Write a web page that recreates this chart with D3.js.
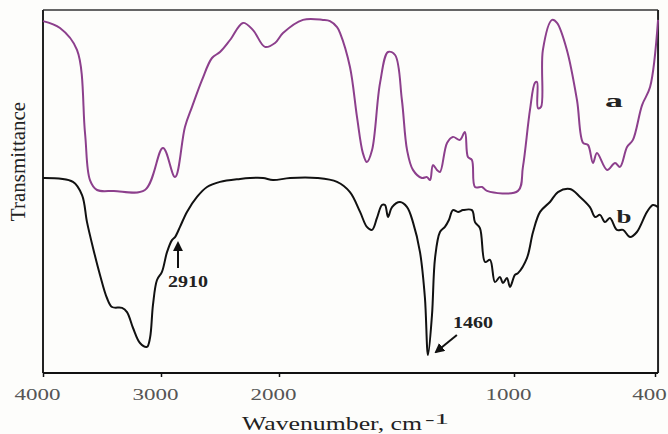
<!DOCTYPE html>
<html>
<head>
<meta charset="utf-8">
<script src="https://cdn.jsdelivr.net/npm/d3@7"></script>
<style>
  body { margin: 0; background: #fdfdfb; }
  svg { display: block; font-family: 'Liberation Serif', 'Times New Roman', serif; }
</style>
</head>
<body>
<div class="visHolder"></div>
<script>
const w = 668, h = 434;
const plotLeft = 43, plotTop = 10, plotBottom = 373;

// wavenumber axis (cm-1), scale doubles below 2000
const xTicks = [4000, 3000, 2000, 1000, 400];
const xEnd = 387;

// [wavenumber, transmittance (arb.)]
const spectrumA = [
  [4000, 117.3], [3856, 115], [3712, 107.7], [3644, 80], [3602, 64.3], [3542, 61],
  [3400, 60.7], [3136, 61], [2983, 75], [2881, 65.3], [2797, 82], [2737, 88.7],
  [2652, 97.7], [2568, 105], [2500, 107], [2415, 111], [2305, 116.7], [2220, 114.3],
  [2119, 108.7], [2034, 110], [1983, 113.3], [1898, 117.7], [1813, 117.7], [1783, 117.3],
  [1753, 115.3], [1740, 113.3], [1698, 102], [1668, 85.3], [1643, 73.3], [1626, 70.3],
  [1604, 74.3], [1570, 96.7], [1536, 107], [1506, 106], [1477, 91], [1455, 74.3],
  [1430, 67.7], [1392, 65], [1370, 65.3], [1357, 64.3], [1345, 69.3], [1328, 67.7],
  [1315, 67], [1285, 76.7], [1260, 78.7], [1230, 77.7], [1209, 80.3], [1196, 72],
  [1179, 71], [1166, 62], [1136, 62], [1115, 60.7], [983, 60.7], [962, 68.7],
  [932, 87.7], [911, 96.7], [902, 97], [898, 88.3], [885, 88.7], [877, 107.7],
  [838, 117.7], [817, 116.7], [775, 107.7], [732, 91], [706, 76.7], [685, 76],
  [664, 70], [647, 73.3], [604, 67.7], [570, 70], [549, 68.7], [519, 75.3],
  [494, 77.7], [455, 89.3], [421, 95.3], [387, 117.7]
];

const spectrumB = [
  [4000, 65], [3746, 63.7], [3669, 59.3], [3627, 50.3], [3576, 41.7], [3517, 32.7],
  [3458, 25], [3415, 22], [3330, 21.7], [3288, 20.3], [3237, 15], [3178, 10],
  [3119, 8.7], [3093, 11.7], [3068, 22.7], [3034, 31], [2992, 33.7], [2949, 40.3],
  [2907, 44.3], [2881, 45.3], [2839, 48.7], [2780, 53.7], [2695, 58.7], [2610, 62],
  [2500, 63.7], [2330, 64.7], [2246, 65], [2135, 65], [2051, 64.3], [1953, 65],
  [1838, 65], [1753, 63.7], [1698, 60.3], [1655, 53.7], [1626, 48.7], [1604, 47.7],
  [1583, 51.7], [1562, 56], [1549, 56], [1536, 52], [1519, 55.3], [1485, 57],
  [1455, 55.3], [1430, 50.3], [1400, 40.3], [1379, 25], [1366, 6], [1349, 19.3],
  [1336, 38.3], [1315, 47], [1294, 48.7], [1277, 51], [1260, 54.3], [1238, 53.7],
  [1217, 54.3], [1179, 54.3], [1166, 50.3], [1145, 48.3], [1123, 37], [1102, 37.7],
  [1081, 30.3], [1060, 32], [1047, 30], [1030, 31.7], [1017, 28.7], [996, 32.7],
  [983, 33.3], [945, 38.3], [919, 47], [889, 53.7], [847, 57], [813, 60.3],
  [762, 61.3], [719, 58.7], [677, 55.3], [655, 52], [634, 52.7], [613, 50.3],
  [592, 51.7], [562, 47.7], [536, 47.7], [506, 45.3], [477, 47], [434, 53.7],
  [409, 56], [387, 55.3]
];

// series labels and peak annotations
const seriesLabels = [
  { text: 'a', wn: 575, t: 88.7, len: 18 },
  { text: 'b', wn: 532, t: 50, len: 15 }
];
const peaks = [
  { text: '2910', wn: 2856, tail: 35, tip: 43.3, labelWn: 2771, labelT: 28.7 },
  { text: '1460', wn: 1243, tail: 12.7, tipWn: 1332, tip: 7, labelWn: 1175, labelT: 15 }
];

const svg = d3.select('.visHolder')
  .append('svg')
  .attr('width', w)
  .attr('height', h);

const x = d3.scaleLinear()
  .domain([4000, 2000, 400])
  .range([plotLeft, 279, 655]);

const y = d3.scaleLinear()
  .domain([0, 121])
  .range([plotBottom, plotTop]);

const line = d3.line()
  .x(d => x(d[0]))
  .y(d => y(d[1]))
  .curve(d3.curveCatmullRom.alpha(0.5));

// frame
svg.append('line')
  .attr('x1', plotLeft).attr('x2', x(xEnd))
  .attr('y1', plotTop).attr('y2', plotTop)
  .attr('stroke', '#666').attr('stroke-width', 2);
svg.append('line')
  .attr('x1', plotLeft).attr('x2', plotLeft)
  .attr('y1', plotTop).attr('y2', plotBottom)
  .attr('stroke', '#222').attr('stroke-width', 2);
svg.append('line')
  .attr('x1', x(xEnd)).attr('x2', x(xEnd))
  .attr('y1', plotTop).attr('y2', plotBottom)
  .attr('stroke', '#222').attr('stroke-width', 2);

const xAxis = d3.axisBottom(x)
  .tickValues(xTicks)
  .tickSize(4)
  .tickSizeOuter(0)
  .tickPadding(12)
  .tickFormat(d3.format('d'));

const gx = svg.append('g')
  .attr('id', 'x-axis')
  .attr('transform', `translate(0, ${plotBottom})`)
  .call(xAxis);

gx.select('.domain').remove();
gx.append('line')
  .attr('x1', plotLeft).attr('x2', x(xEnd))
  .attr('stroke', '#111').attr('stroke-width', 2);
gx.selectAll('.tick line').attr('stroke', '#111').attr('stroke-width', 1.5);
// the source picture is stretched sideways, so the glyphs are widened
gx.selectAll('.tick text')
  .attr('fill', '#555')
  .attr('dx', -6)
  .attr('textLength', d => String(d).length * 11.5)
  .attr('lengthAdjust', 'spacingAndGlyphs')
  .style('font-family', "'Liberation Serif', serif")
  .style('font-size', '16px');

// spectra
svg.append('path')
  .datum(spectrumA)
  .attr('fill', 'none')
  .attr('stroke', '#8c3f8c')
  .attr('stroke-width', 2)
  .attr('d', line);

svg.append('path')
  .datum(spectrumB)
  .attr('fill', 'none')
  .attr('stroke', '#111')
  .attr('stroke-width', 2)
  .attr('d', line);

svg.selectAll('.series-label')
  .data(seriesLabels)
  .join('text')
  .attr('class', 'series-label')
  .attr('x', d => x(d.wn) - d.len / 2)
  .attr('y', d => y(d.t))
  .attr('font-weight', 'bold')
  .attr('font-size', 19)
  .attr('textLength', d => d.len)
  .attr('lengthAdjust', 'spacingAndGlyphs')
  .attr('fill', '#222')
  .text(d => d.text);

// peak arrows
svg.append('defs').append('marker')
  .attr('id', 'head')
  .attr('viewBox', '0 0 10 10')
  .attr('refX', 8).attr('refY', 5)
  .attr('markerWidth', 5).attr('markerHeight', 5)
  .attr('orient', 'auto')
  .append('path')
  .attr('d', 'M0,0L10,5L0,10z')
  .attr('fill', '#111');

svg.selectAll('.peak-arrow')
  .data(peaks)
  .join('line')
  .attr('class', 'peak-arrow')
  .attr('x1', d => x(d.wn))
  .attr('y1', d => y(d.tail))
  .attr('x2', d => x(d.tipWn || d.wn))
  .attr('y2', d => y(d.tip))
  .attr('stroke', '#111')
  .attr('stroke-width', 2)
  .attr('marker-end', 'url(#head)');

svg.selectAll('.peak-label')
  .data(peaks)
  .join('text')
  .attr('class', 'peak-label')
  .attr('x', d => x(d.labelWn) - 20)
  .attr('y', d => y(d.labelT))
  .attr('font-weight', 'bold')
  .attr('font-size', 17)
  .attr('textLength', 40)
  .attr('lengthAdjust', 'spacingAndGlyphs')
  .attr('fill', '#222')
  .text(d => d.text);

// axis titles
svg.append('text')
  .attr('x', 242)
  .attr('y', 430)
  .attr('font-size', 19)
  .attr('textLength', 180)
  .attr('lengthAdjust', 'spacingAndGlyphs')
  .attr('fill', '#222')
  .text('Wavenumber, cm');
svg.append('text')
  .attr('x', 425)
  .attr('y', 424)
  .attr('font-size', 15)
  .attr('textLength', 24)
  .attr('lengthAdjust', 'spacingAndGlyphs')
  .attr('fill', '#222')
  .text('-1');

svg.append('text')
  .attr('transform', `translate(25, ${(plotTop + plotBottom) / 2 - 30}) rotate(-90)`)
  .attr('text-anchor', 'middle')
  .attr('font-size', 21)
  .attr('fill', '#222')
  .text('Transmittance');
</script>
</body>
</html>
